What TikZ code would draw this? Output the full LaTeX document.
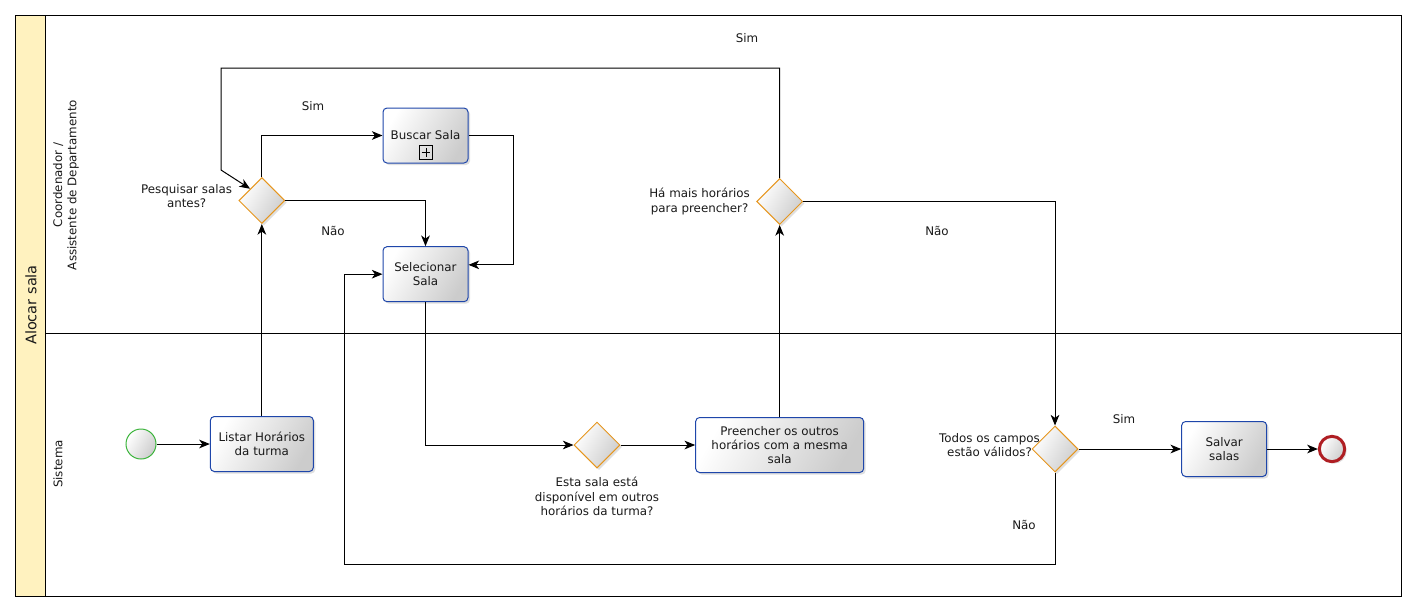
\documentclass[tikz,border=0pt]{standalone}
\usepackage{fontspec}
\setmainfont{DejaVu Sans}
\usetikzlibrary{positioning,shapes.geometric,arrows.meta,shadows}

\definecolor{poolyellow}{RGB}{255,242,191}
\definecolor{taskblue}{RGB}{30,70,170}
\definecolor{gateorange}{RGB}{230,150,30}
\definecolor{startgreen}{RGB}{60,180,60}
\definecolor{endred}{RGB}{175,30,35}

\begin{document}
\begin{tikzpicture}[x=0.75pt, y=-0.75pt, line width=0.75pt,
    font=\fontsize{8.9}{10.6}\selectfont, text=black!90,
    shade/.style={left color=white, right color=black!20, shading angle=60},
    shadowed/.style={drop shadow={shadow xshift=1.5pt, shadow yshift=-1.5pt, opacity=0.25}},
    task/.style={draw=taskblue, rounded corners=3pt, shade, shadowed, align=center,
        minimum width=63.75pt, minimum height=41.25pt, inner sep=2pt},
    gate/.style={diamond, draw=gateorange, shade, shadowed, minimum width=34.5pt,
        minimum height=34.5pt, inner sep=0pt},
    startev/.style={circle, draw=startgreen, shade, minimum size=22.5pt, inner sep=0pt},
    endev/.style={circle, draw=endred, line width=2.25pt, shade, shadowed, minimum size=19pt, inner sep=0pt},
    submark/.style={draw, sharp corners, line width=0.6pt, minimum size=10pt, inner sep=0pt},
    flow/.style={-{Stealth[length=8pt, width=6.5pt, inset=2.3pt]}},
    tag/.style={inner sep=1pt}]

    \useasboundingbox (0,0) rectangle (1417,612);

    % Pool and lanes
    \draw [fill=poolyellow] (15,15) rectangle (45,596);
    \draw (45,15) rectangle (1401,596);
    \draw (45,333) -- (1401,333);
    \node [rotate=90, font=\fontsize{10.9}{13}\selectfont] (pool) at (31,305) {Alocar sala};
    \node [rotate=90, align=center] (lanecoord) at (66,185) {Coordenador /\\Assistente de Departamento};
    \node [rotate=90] (lanesis) at (58,464) {Sistema};

    % Nodes
    \node [startev] (start) at (141,444) {};
    \node [task, right=40pt of start, minimum width=77.25pt] (listar) {Listar Horários\\da turma};
    \node [gate, above=144pt of listar] (pesq) {};
    \node [task] (buscar) at (425.5,135.5) {Buscar Sala};
    \node [submark] (buscarplus) at (426,152.5) {};
    \node [task, below=62pt of buscar] (selecionar) {Selecionar\\Sala};
    \node [gate] (esta) at (597,445) {};
    \node [task, right=56pt of esta, minimum width=126pt] (preencher) {Preencher os outros\\horários com a mesma\\sala};
    \node [gate, above=144pt of preencher] (hamais) {};
    \node [gate] (todos) at (1055,449) {};
    \node [task, right=77pt of todos] (salvar) {Salvar\\salas};
    \node [endev, right=38pt of salvar] (end) {};
    \draw [line width=0.6pt, shorten <=2pt, shorten >=2pt] (buscarplus.west) -- (buscarplus.east);
    \draw [line width=0.6pt, shorten <=2pt, shorten >=2pt] (buscarplus.north) -- (buscarplus.south);

    % Gateway texts
    \node [align=center, left=1pt of pesq, yshift=3pt] (pesqtxt) {Pesquisar salas\\antes?};
    \node [align=center, left=1pt of hamais] (hamaistxt) {Há mais horários\\para preencher?};
    \node [align=center, below=3pt of esta] (estatxt) {Esta sala está\\disponível em outros\\horários da turma?};
    \node [align=center, left=-10pt of todos, yshift=3pt] (todostxt) {Todos os campos\\estão válidos?};

    % Flow labels
    \node [tag] (sim1) at (313,106) {Sim};
    \node [tag] (nao1) at (333,231) {Não};
    \node [tag] (sim2) at (747,38) {Sim};
    \node [tag] (nao2) at (937,231) {Não};
    \node [tag] (sim3) at (1124,419) {Sim};
    \node [tag] (nao3) at (1024,525) {Não};

    % Bends
    \coordinate (loopa) at (221,68);
    \coordinate (loopb) at (221,170);
    \coordinate (backa) at (344,564);

    % Arrows
    \draw [flow] (start) -- (listar);
    \draw [flow] (listar) -- (pesq);
    \draw [flow] (pesq.north) |- (buscar.west);
    \draw [flow] (pesq.east) -| (selecionar.north);
    \draw [flow] (buscar.east) -- ++(45,0) |- ([yshift=7pt]selecionar.east);
    \draw [flow] (selecionar.south) |- (esta.west);
    \draw [flow] (esta) -- (preencher);
    \draw [flow] (preencher) -- (hamais);
    \draw [flow] (hamais.north) |- (loopa) -- (loopb) -- (pesq.north west);
    \draw [flow] (hamais.east) -| (todos.north);
    \draw [flow] (todos) -- (salvar);
    \draw [flow] (salvar) -- (end);
    \draw [flow] (todos.south) |- (backa) |- (selecionar.west);
\end{tikzpicture}
\end{document}
